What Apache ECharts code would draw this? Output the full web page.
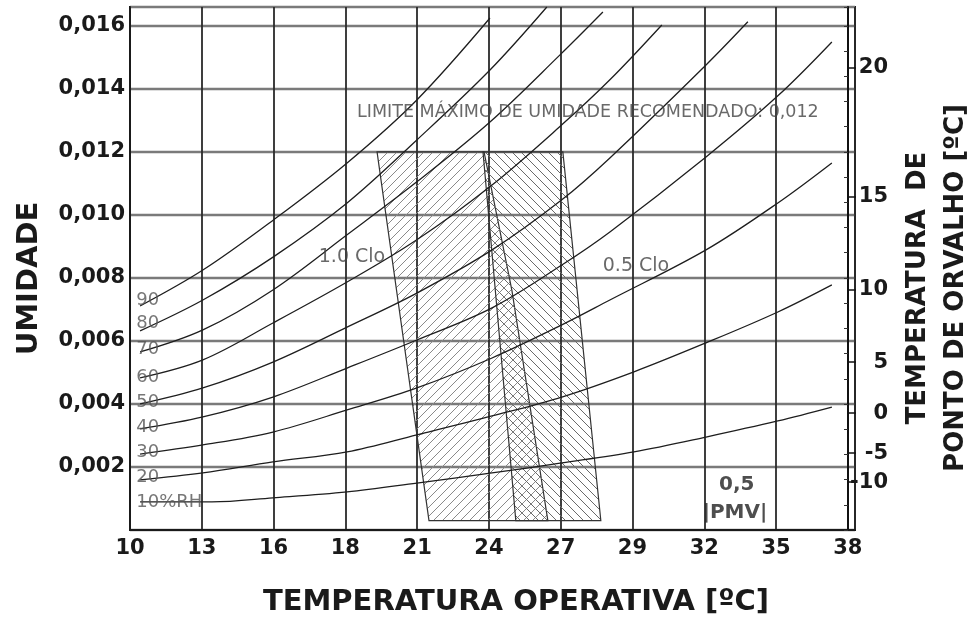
<!DOCTYPE html>
<html>
<head>
<meta charset="utf-8">
<title>Zona de conforto</title>
<script src="https://cdn.jsdelivr.net/npm/echarts@6/dist/echarts.min.js"></script>
<style>
  html, body { margin: 0; padding: 0; background: #fff; }
  #chart { width: 978px; height: 625px; }
</style>
</head>
<body>
<div id="chart"></div>
<script>
// eixo x uniforme em ºF (50..100), rotulado em ºC arredondado
const xTickLabels = ['10', '13', '16', '18', '21', '24', '27', '29', '32', '35', '38'];

// eixo direito: ponto de orvalho e umidade correspondente
const dewLabels = ['20', '15', '10', '5', '0', '-5', '-10'];
const dewHumidity = [0.01467, 0.01057, 0.00762, 0.00533, 0.00371, 0.00244, 0.00152];

// curvas de umidade relativa: temperatura [ºC] x umidade [kg/kg]
const rhNames = ['10%RH', '20', '30', '40', '50', '60', '70', '80', '90'];
const rhLabelT = 10.3;
const rhLabelW = [0.00089, 0.00168, 0.00248, 0.00327, 0.00406, 0.00486, 0.00575, 0.00657, 0.00730];

const rh10T = [10.39, 13.17, 15.53, 18.40, 21.10, 24.01, 26.71, 29.50, 32.29, 35.07, 37.16];
const rh10W = [0.00089, 0.00089, 0.00102, 0.00121, 0.00149, 0.00181, 0.00213, 0.00248, 0.00295, 0.00346, 0.00390];
const rh20T = [10.39, 12.82, 15.53, 18.40, 21.10, 24.01, 26.71, 29.50, 32.29, 35.07, 37.16];
const rh20W = [0.00159, 0.00181, 0.00216, 0.00248, 0.00302, 0.00362, 0.00422, 0.00502, 0.00594, 0.00692, 0.00778];
const rh30T = [10.39, 12.82, 15.53, 18.40, 21.10, 24.01, 26.71, 28.57, 32.29, 35.07, 37.16];
const rh30W = [0.00241, 0.00270, 0.00311, 0.00381, 0.00451, 0.00546, 0.00651, 0.00730, 0.00889, 0.01038, 0.01165];
const rh40T = [10.39, 12.82, 15.53, 18.40, 21.10, 24.01, 26.71, 28.57, 32.29, 35.07, 37.16];
const rh40W = [0.00321, 0.00359, 0.00422, 0.00514, 0.00603, 0.00705, 0.00841, 0.00946, 0.01184, 0.01378, 0.01549];
const rh50T = [10.39, 12.82, 15.53, 18.40, 21.10, 24.01, 26.71, 28.57, 32.29, 33.91];
const rh50W = [0.00400, 0.00451, 0.00533, 0.00644, 0.00752, 0.00889, 0.01048, 0.01181, 0.01476, 0.01613];
const rh60T = [10.39, 12.82, 15.53, 18.40, 21.10, 24.01, 26.71, 28.57, 30.58];
const rh60W = [0.00483, 0.00540, 0.00657, 0.00787, 0.00921, 0.01095, 0.01286, 0.01429, 0.01603];
const rh70T = [10.39, 12.82, 15.53, 18.40, 21.10, 23.93, 26.64, 28.30];
const rh70W = [0.00565, 0.00635, 0.00762, 0.00937, 0.01105, 0.01295, 0.01508, 0.01644];
const rh80T = [10.39, 12.82, 15.55, 18.40, 21.10, 23.93, 26.13];
const rh80W = [0.00632, 0.00730, 0.00867, 0.01038, 0.01238, 0.01460, 0.01660];
const rh90T = [10.39, 12.82, 15.55, 18.40, 21.10, 23.93];
const rh90W = [0.00711, 0.00825, 0.00984, 0.01165, 0.01365, 0.01625];

// zonas de conforto
const clo10T = [19.56, 23.70, 24.78, 26.17, 21.57];
const clo10W = [0.012, 0.012, 0.0076, 0.0003, 0.0003];
const clo05T = [23.66, 26.75, 28.22, 24.93];
const clo05W = [0.012, 0.012, 0.0003, 0.0003];

// textos no gráfico
const noteText = ['LIMITE MÁXIMO DE UMIDADE RECOMENDADO: 0,012', '1.0 Clo', '0.5 Clo', '0,5', '|PMV|'];
const noteT = [27.72, 18.59, 29.58, 33.48, 33.41];
const noteW = [0.01324, 0.00867, 0.00838, 0.00143, 0.00054];

const FONT = 'DejaVu Sans';
const toF = (c) => c * 9 / 5 + 32;

const curvesT = [rh10T, rh20T, rh30T, rh40T, rh50T, rh60T, rh70T, rh80T, rh90T];
const curvesW = [rh10W, rh20W, rh30W, rh40W, rh50W, rh60W, rh70W, rh80W, rh90W];

// hachura em padrão (canvas)
function hatch(dir, color) {
  const s = 9;
  const c = document.createElement('canvas');
  c.width = s;
  c.height = s;
  const g = c.getContext('2d');
  g.strokeStyle = color;
  g.lineWidth = 1;
  g.beginPath();
  if (dir > 0) {
    g.moveTo(-1, s + 1); g.lineTo(s + 1, -1);
    g.moveTo(-1, 1); g.lineTo(1, -1);
    g.moveTo(s - 1, s + 1); g.lineTo(s + 1, s - 1);
  } else {
    g.moveTo(-1, -1); g.lineTo(s + 1, s + 1);
    g.moveTo(s - 1, -1); g.lineTo(s + 1, 1);
    g.moveTo(-1, s - 1); g.lineTo(1, s + 1);
  }
  g.stroke();
  return { image: c, repeat: 'repeat' };
}

function zoneSeries(T, W, fill) {
  return {
    type: 'custom',
    silent: true,
    z: 2,
    encode: { x: 0, y: 1 },
    data: [[toF(T[0]), W[0]]],
    renderItem: (params, api) => ({
      type: 'polygon',
      shape: { points: T.map((t, i) => api.coord([toF(t), W[i]])) },
      style: { fill: fill, stroke: '#333', lineWidth: 1.2 }
    })
  };
}

const series = [];
series.push(zoneSeries(clo10T, clo10W, hatch(1, '#8a8a8a')));
series.push(zoneSeries(clo05T, clo05W, hatch(-1, '#6a6a6a')));

curvesT.forEach((T, k) => {
  series.push({
    type: 'line',
    silent: true,
    z: 4,
    symbol: 'none',
    smooth: 0.35,
    lineStyle: { color: '#1e1e1e', width: 1.3 },
    data: T.map((t, i) => [toF(t), curvesW[k][i]])
  });
});

// rótulos das curvas de UR
series.push({
  type: 'scatter',
  silent: true,
  z: 5,
  symbolSize: 1,
  itemStyle: { color: 'transparent' },
  label: {
    show: true,
    position: 'right',
    distance: -2,
    formatter: (p) => rhNames[p.dataIndex],
    color: '#555',
    fontFamily: FONT,
    fontSize: 18
  },
  data: rhLabelW.map((w) => [toF(rhLabelT), w])
});

// notas
series.push({
  type: 'scatter',
  silent: true,
  z: 5,
  symbolSize: 1,
  itemStyle: { color: 'transparent' },
  data: noteText.map((txt, i) => ({
    value: [toF(noteT[i]), noteW[i]],
    label: {
      show: true,
      position: 'inside',
      formatter: txt,
      color: i < 3 ? '#444' : '#222',
      fontFamily: FONT,
      fontSize: i < 3 ? (i === 0 ? 17.5 : 19) : 20,
      fontWeight: i < 3 ? 'normal' : 'bold'
    }
  }))
});

const tickFont = { color: '#1a1a1a', fontFamily: FONT, fontSize: 21, fontWeight: 'bold' };

const option = {
  animation: false,
  backgroundColor: '#fff',
  grid: {
    left: 130, right: 123, top: 7, bottom: 95,
    show: true, borderColor: '#1a1a1a', borderWidth: 2,
    containLabel: false, outerBoundsMode: 'none'
  },
  xAxis: {
    type: 'value',
    min: 50, max: 100.5, interval: 5,
    axisLine: { show: true, onZero: false, lineStyle: { color: '#1a1a1a', width: 2 } },
    axisTick: { show: false },
    splitLine: { show: true, lineStyle: { color: '#2a2a2a', width: 1.8 } },
    axisLabel: Object.assign({}, tickFont, {
      margin: 8,
      formatter: (v) => {
        const idx = Math.round((v - 50) / 5);
        return Math.abs(v - (50 + idx * 5)) < 1e-6 && xTickLabels[idx] ? xTickLabels[idx] : '';
      }
    }),
    name: 'TEMPERATURA OPERATIVA [ºC]',
    nameLocation: 'middle',
    nameGap: 58,
    nameTextStyle: { color: '#1a1a1a', fontFamily: FONT, fontSize: 29, fontWeight: 'bold', padding: [0, 0, 0, 47] }
  },
  yAxis: [
    {
      type: 'value',
      min: 0, max: 0.0166, interval: 0.002,
      axisLine: { show: true, onZero: false, lineStyle: { color: '#1a1a1a', width: 2 } },
      axisTick: { show: false },
      splitLine: { show: true, lineStyle: { color: '#7a7a7a', width: 2.4 } },
      axisLabel: Object.assign({}, tickFont, {
        margin: 5,
        formatter: (v) => (v > 0 && v < 0.0162) ? v.toFixed(3).replace('.', ',') : ''
      }),
      name: 'UMIDADE',
      nameLocation: 'middle',
      nameRotate: 90,
      nameGap: 86,
      nameTextStyle: { color: '#1a1a1a', fontFamily: FONT, fontSize: 29, fontWeight: 'bold', padding: [0, 20, 0, 0] }
    },
    {
      type: 'value',
      position: 'right',
      offset: -7,
      min: 0, max: 0.0166,
      axisLine: { show: true, onZero: false, lineStyle: { color: '#111', width: 2 } },
      axisTick: { show: true, customValues: dewHumidity, length: 8, lineStyle: { color: '#111', width: 1.5 } },
      splitLine: { show: false },
      axisLabel: Object.assign({}, tickFont, {
        customValues: dewHumidity,
        align: 'right',
        margin: 40,
        formatter: (v) => {
          const i = dewHumidity.findIndex((d) => Math.abs(d - v) < 1e-7);
          return i >= 0 ? dewLabels[i] : '';
        }
      }),
      name: 'TEMPERATURA  DE\nPONTO DE ORVALHO [ºC]',
      nameLocation: 'middle',
      nameRotate: 90,
      nameGap: 50,
      nameTextStyle: { color: '#1a1a1a', fontFamily: FONT, fontSize: 26, fontWeight: 'bold', lineHeight: 38, padding: [0, 39, 0, 0] }
    },
    {
      type: 'value',
      position: 'right',
      offset: -7,
      min: 0, max: 0.0166, interval: 0.0008,
      axisLine: { show: false },
      axisTick: { show: true, inside: true, length: 4, lineStyle: { color: '#333', width: 1 } },
      axisLabel: { show: false },
      splitLine: { show: false }
    }
  ],
  series: series
};

const chart = echarts.init(document.getElementById('chart'));
chart.setOption(option);
</script>
</body>
</html>
